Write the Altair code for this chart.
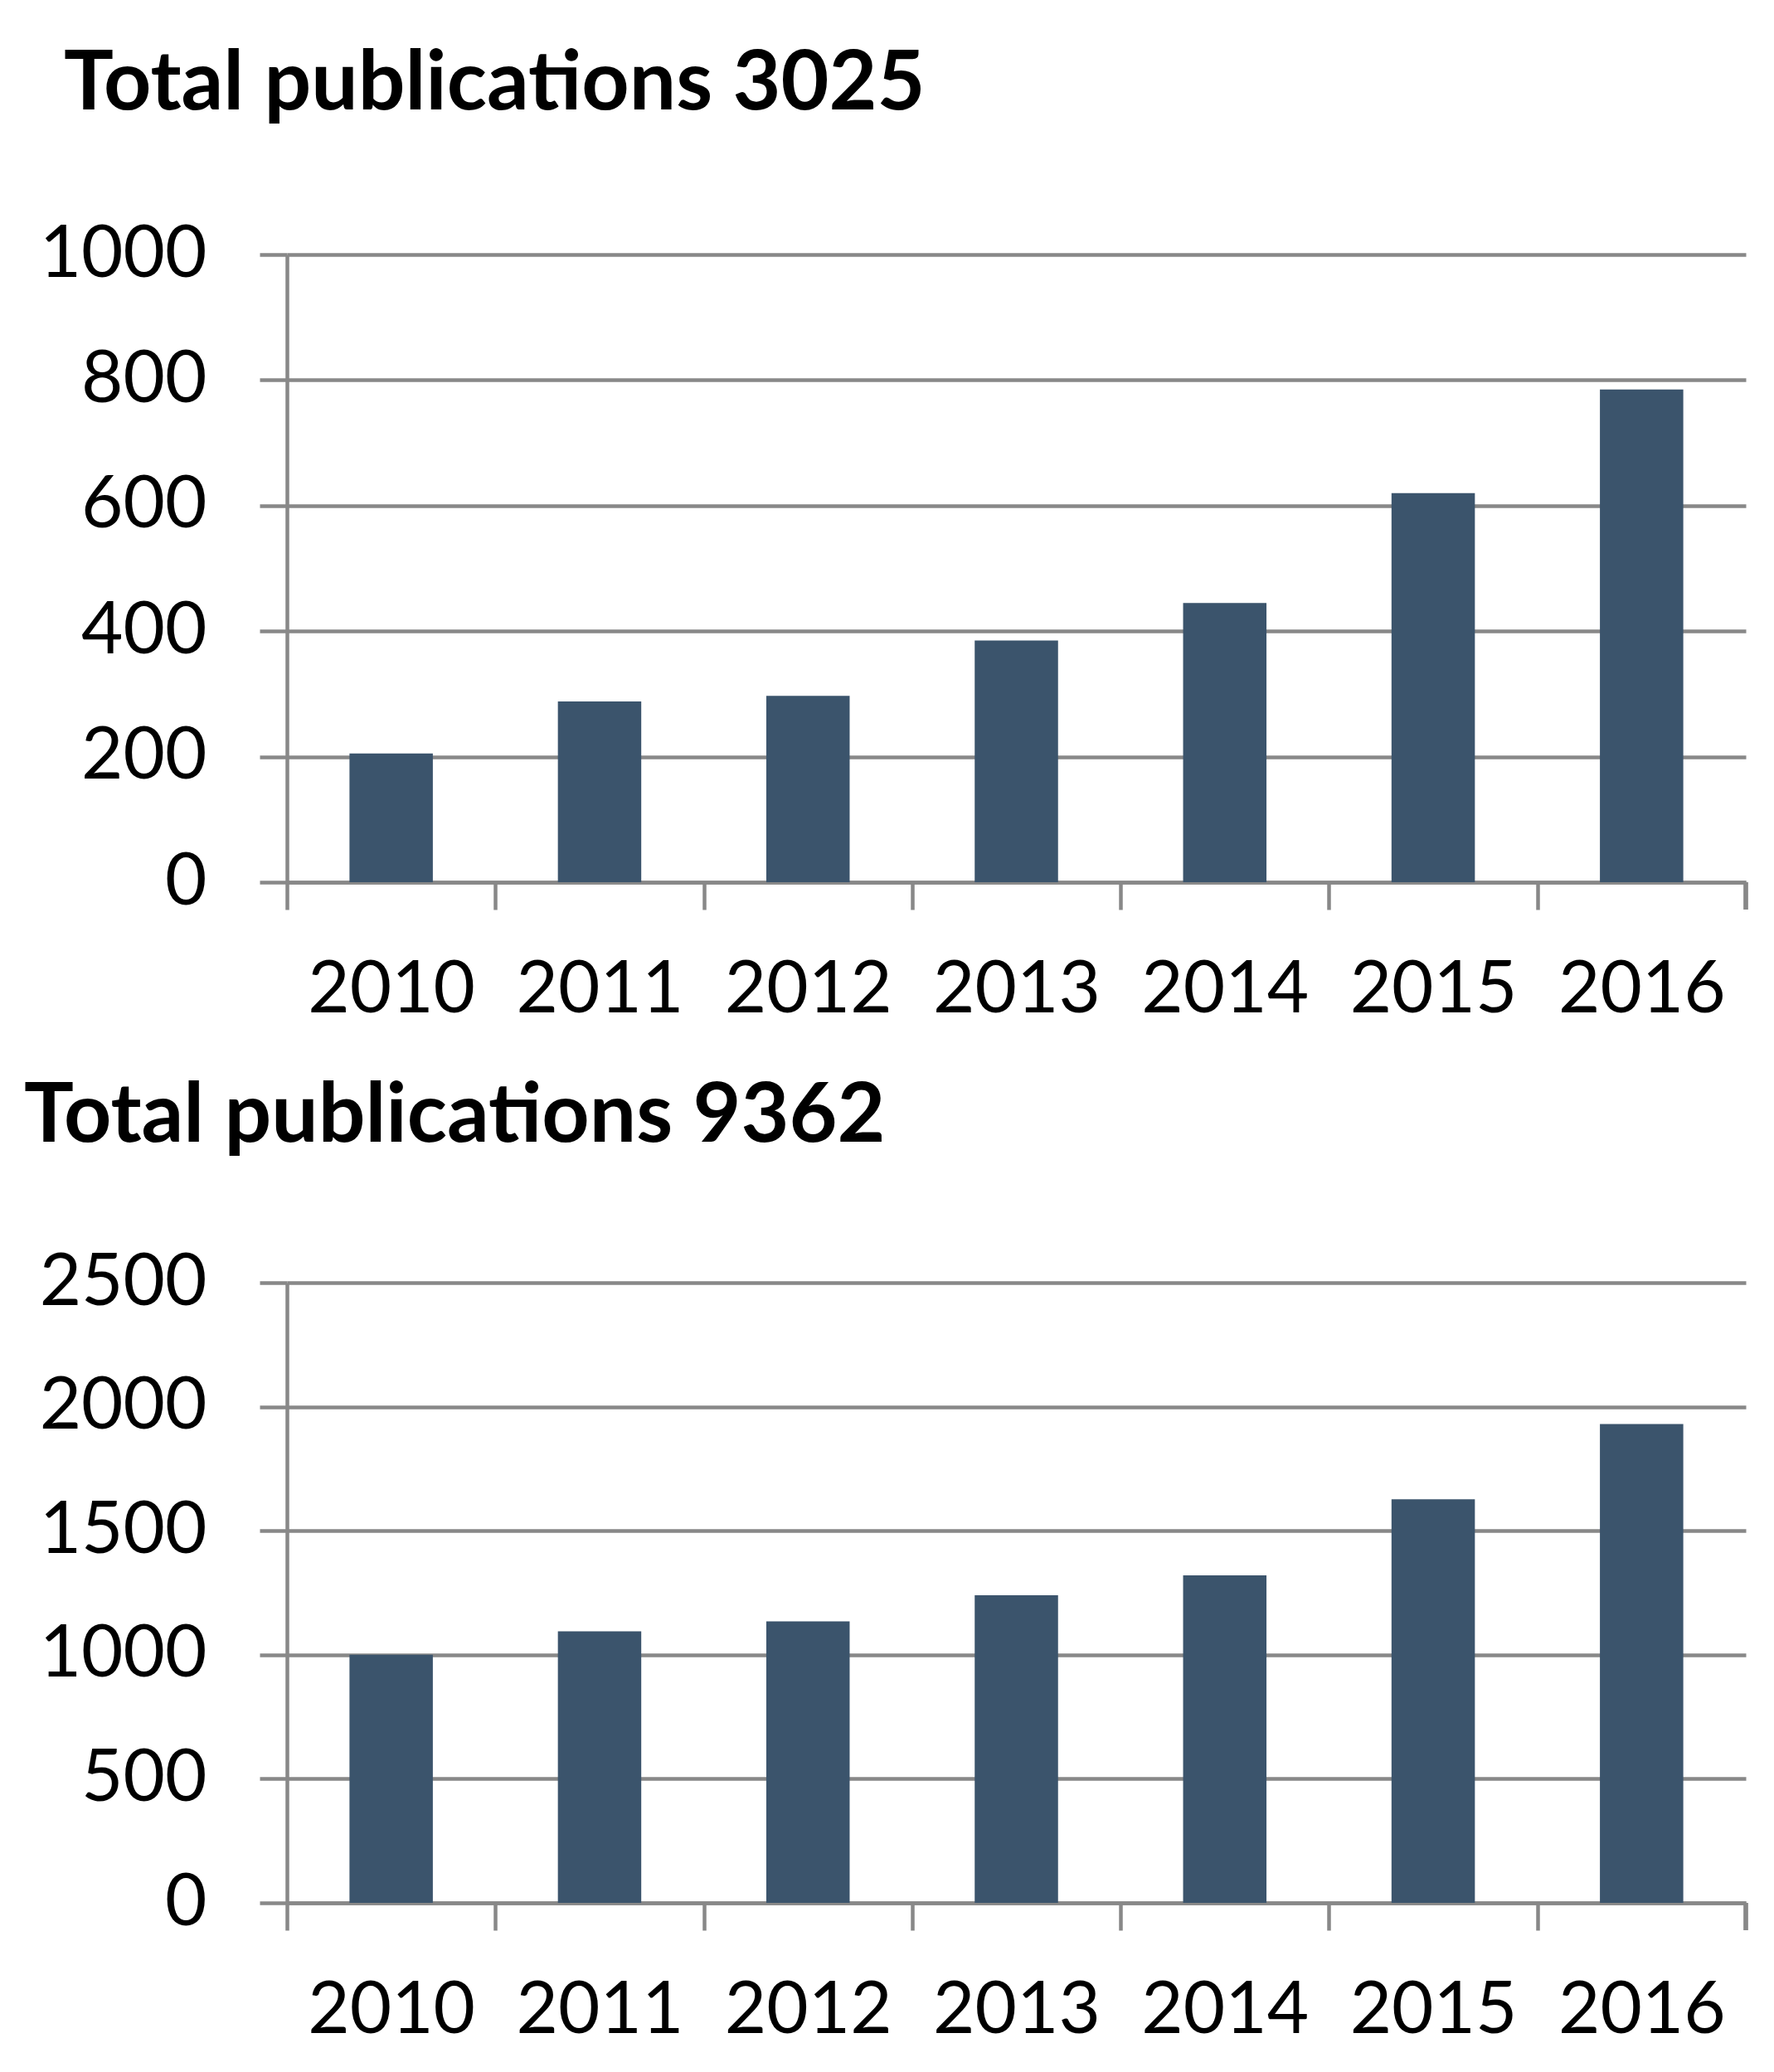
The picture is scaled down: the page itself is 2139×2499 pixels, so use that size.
import altair as alt
import pandas as pd

years = ["2010", "2011", "2012", "2013", "2014", "2015", "2016"]
top_values = [205, 288, 297, 385, 445, 620, 785]
bottom_values = [1000, 1095, 1135, 1240, 1320, 1627, 1930]
top_title = "Total publications 3025"
bottom_title = "Total publications 9362"
top_ticks = [0, 200, 400, 600, 800, 1000]
bottom_ticks = [0, 500, 1000, 1500, 2000, 2500]

BAR = "#3B546C"
GRID = "#888888"
FONT = "Lato"
LW = 4.5
W = 1759
STEP = W / len(years)


def panel(values, title, ticks, height, dx, offset):
    df = pd.DataFrame({"Year": years, "Count": values})
    base = alt.Chart(df)
    bars = base.mark_bar(color=BAR).encode(
        x=alt.X(
            "Year:O",
            sort=years,
            title=None,
            scale=alt.Scale(paddingInner=0.6, paddingOuter=0.3),
            axis=alt.Axis(
                labelAngle=0,
                labelFont=FONT,
                labelFontSize=87,
                labelColor="black",
                labelPadding=54,
                labelLimit=0,
                domain=True,
                domainColor=GRID,
                domainWidth=LW,
                ticks=True,
                tickColor=GRID,
                tickWidth=LW,
                tickSize=33,
                bandPosition=0.5,
                tickOffset=-STEP / 2,
                labelOffset=STEP / 2,
                grid=False,
            ),
        ),
        y=alt.Y(
            "Count:Q",
            title=None,
            scale=alt.Scale(domain=[ticks[0], ticks[-1]], nice=False),
            axis=alt.Axis(
                values=ticks,
                format="d",
                labelFont=FONT,
                labelFontSize=87,
                labelColor="black",
                labelPadding=64,
                labelLimit=0,
                domain=True,
                domainColor=GRID,
                domainWidth=LW,
                ticks=True,
                tickColor=GRID,
                tickWidth=LW,
                tickSize=33,
                grid=True,
                gridColor=GRID,
                gridWidth=LW,
            ),
        ),
    )
    end_tick = base.mark_rule(color=GRID, strokeWidth=LW).encode(
        x=alt.value(W), y=alt.value(height), y2=alt.value(height + 33)
    )
    return alt.layer(bars, end_tick).properties(
        width=W,
        height=height,
        title=alt.TitleParams(
            text=title,
            font=FONT,
            fontSize=100,
            fontWeight="bold",
            color="black",
            anchor="start",
            frame="group",
            dx=dx,
            offset=offset,
        ),
    )


top = panel(top_values, top_title, top_ticks, 757, -269, 110)
bottom = panel(bottom_values, bottom_title, bottom_ticks, 748, -317, 105)

chart = (
    alt.vconcat(top, bottom, spacing=60)
    .properties(padding={"left": 21, "top": 44, "right": 5, "bottom": 5})
    .configure_view(stroke=None)
)

chart.save("out.html", embed_options={"renderer": "svg", "actions": False})
